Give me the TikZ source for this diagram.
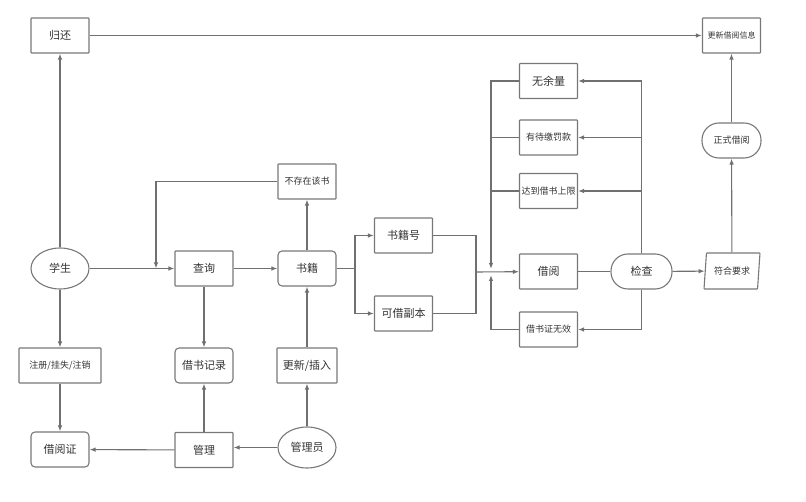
\documentclass[tikz,border=0pt]{standalone}
\usepackage{fontspec}
\setmainfont{Noto Sans CJK SC}
\usetikzlibrary{shapes.geometric,arrows.meta}
\definecolor{linegray}{HTML}{707070}
\definecolor{boxgray}{HTML}{787878}
\definecolor{textgray}{HTML}{333333}
\begin{document}
\begin{tikzpicture}[x=1pt, y=-1pt, color=linegray, line width=1.1pt,
		>={Latex[length=6pt,width=4.5pt]},
		box/.style = {draw=boxgray, line width=1.1pt, text=textgray, inner sep=1pt,
			rounded corners=0.6pt,
			minimum width=58pt, minimum height=35pt, font=\fontsize{11}{13}\selectfont},
		rbox/.style = {box, rounded corners=4pt},
		oval/.style = {box, ellipse, minimum height=41pt},
		pill/.style = {box, rounded corners=17pt, minimum width=61pt},
		slant/.style = {box, trapezium, trapezium left angle=80, trapezium right angle=100,
			trapezium stretches, minimum width=56pt, minimum height=36pt},
		small/.style = {font=\fontsize{9}{11}\selectfont},
		tiny/.style = {font=\fontsize{8}{10}\selectfont}]
		\useasboundingbox (0,0) rectangle (806,502);
		\node[box] (giveback) at (60,35.5) {归还};
		\node[box, tiny] (update) at (731.5,35.5) {更新借阅信息};
		\node[box, small] (nobook) at (307,181.5) {不存在该书};
		\node[oval] (student) at (60,268.5) {学生};
		\node[box] (query) at (204,268.5) {查询};
		\node[rbox] (book) at (307,268.5) {书籍};
		\node[box, small, minimum width=82pt] (reg) at (60,365.5) {注册/挂失/注销};
		\node[rbox] (record) at (204,365.5) {借书记录};
		\node[box, minimum width=60pt] (insert) at (307,365.5) {更新/插入};
		\node[rbox] (card) at (60,449.5) {借阅证};
		\node[box] (manage) at (204,450) {管理};
		\node[oval] (admin) at (307,447.5) {管理员};
		\node[box] (bookno) at (403.5,235.5) {书籍号};
		\node[box] (copy) at (403.5,313.5) {可借副本};
		\node[box] (none) at (548.5,81) {无余量};
		\node[box, small] (fine) at (548.5,137.5) {有待缴罚款};
		\node[box, small] (limit) at (548.5,191) {达到借书上限};
		\node[box] (borrow) at (548.5,271.5) {借阅};
		\node[box, small] (invalid) at (548.5,329.5) {借书证无效};
		\node[pill] (check) at (641.5,271.5) {检查};
		\node[slant, small] (ok) at (732,271) {符合要求};
		\node[pill, small, minimum width=59pt] (formal) at (731.5,140.5) {正式借阅};
		\coordinate (j1) at (156,268.5);
		\coordinate (j2) at (355,268.5);
		\coordinate (j3) at (476,272);
		\coordinate (j4) at (491,272);
		\draw[->] (giveback) -- (update);
		\draw[->] (student) -- (giveback);
		\draw[->] (student) -- (reg);
		\draw[->] (reg) -- (card);
		\draw[->] (student) -- (query);
		\draw[->] (nobook) -| (j1);
		\draw[->] (query) -- (book);
		\draw[->] (book) -- (nobook);
		\draw[->] (query) -- (record);
		\draw[->] (manage) -- (record);
		\draw[->] (manage) -- (card);
		\draw[->] (admin) -- (admin -| manage.east);
		\draw[->] (admin) -- (insert);
		\draw[->] (insert) -- (book);
		\draw (book) -- (j2);
		\draw[->] (j2) |- (bookno);
		\draw[->] (j2) |- (copy);
		\draw (bookno) -| (j3);
		\draw (copy) -| (j3);
		\draw[->] (j3) -- (borrow);
		\draw[->, shorten >=3pt] (none) -| (j4);
		\draw (fine.west) -- (fine.west -| j4);
		\draw (limit.west) -- (limit.west -| j4);
		\draw[->, shorten >=3pt] (invalid) -| (j4);
		\draw (borrow) -- (check);
		\draw[->] (check) |- (none);
		\draw[->] (check) |- (fine);
		\draw[->] (check) |- (limit);
		\draw[->] (check) |- (invalid);
		\draw[->] (check) -- (ok);
		\draw[->] (ok) -- (formal);
		\draw[->] (formal) -- (update);
	\end{tikzpicture}
\end{document}
